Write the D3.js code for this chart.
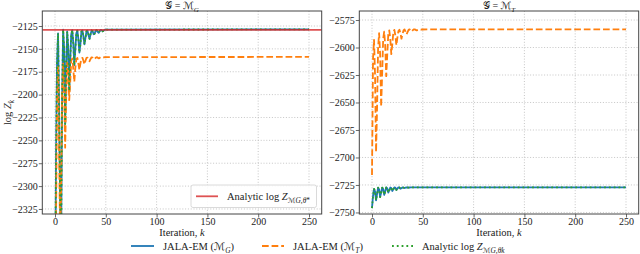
<!DOCTYPE html>
<html><head><meta charset="utf-8">
<script src="https://cdn.jsdelivr.net/npm/d3@7"></script>
<style>
body{margin:0;background:#fff;}
svg text{font-family:"Liberation Serif","DejaVu Serif",serif;fill:#222;}
</style></head>
<body><svg id="c" width="640" height="254"></svg>
<script>
// ---------------- data ----------------
const iterations = [0,1,2,3,4,5,6,7,8,9,10,11,12,13,14,15,16,17,18,19,20,21,22,23,24,25,26,27,28,29,30,31,32,33,34,35,36,37,38,39,40,41,42,43,44,45,46,47,48,49,250];
// Panel G = M_G
const leftJalaMG = [-2450,-2270,-2165,-2133,-2210,-2310,-2370,-2205,-2129,-2150,-2232,-2172,-2131,-2148,-2196,-2162,-2134,-2129.5,-2144,-2168,-2150,-2133,-2130,-2139,-2154,-2145,-2131,-2129.8,-2137,-2145,-2138,-2130.5,-2130,-2135,-2139,-2134,-2129.8,-2130.5,-2134,-2133.5,-2130,-2129.5,-2131.5,-2132.5,-2130.5,-2129.2,-2129.8,-2130.8,-2130,-2129,-2128.6];
const leftJalaMT = [-2470,-2340,-2205,-2168,-2255,-2355,-2310,-2195,-2166,-2200,-2258,-2203,-2165,-2174,-2206,-2186,-2163,-2160.5,-2172,-2186,-2171,-2161.5,-2160,-2166,-2173,-2166,-2160.5,-2159.8,-2163,-2167,-2163,-2159.8,-2159.5,-2162,-2163.5,-2161,-2159.2,-2159.5,-2161,-2161.2,-2159.8,-2159,-2159.6,-2160.4,-2159.8,-2159,-2159.2,-2159.6,-2159.3,-2159,-2158.8];
const leftAnalyticTheta = leftJalaMG;          // analytic log Z_{M_G,theta_k} coincides with JALA-EM(M_G)
const leftAnalyticStar = -2129.3;              // analytic log Z_{M_G,theta*}
// Panel G = M_T
const rightJalaMT = [-2716,-2610,-2593,-2625,-2695,-2655,-2600,-2587,-2606,-2654,-2624,-2592,-2585.5,-2598,-2626,-2607,-2588,-2584.5,-2592,-2606,-2597,-2586,-2584,-2589,-2598,-2591,-2585,-2583.8,-2587,-2592,-2588,-2584.5,-2583.6,-2585.5,-2588,-2586,-2584,-2583.5,-2584.5,-2585.5,-2584.5,-2583.6,-2583.5,-2584,-2584.5,-2584,-2583.6,-2583.5,-2583.7,-2583.6,-2583.5];
const rightJalaMG = [-2746,-2735,-2728.5,-2731,-2739,-2733,-2727.5,-2729,-2736,-2732,-2727.5,-2728.5,-2734,-2731,-2727.3,-2728,-2732,-2730,-2727.3,-2727.8,-2730.5,-2729,-2727.3,-2727.5,-2729.5,-2728.3,-2727.2,-2727.3,-2728.5,-2728,-2727.2,-2727.4,-2727.8,-2727.5,-2727.2,-2727.3,-2727.5,-2727.3,-2727.2,-2727.2,-2727.2,-2727.2,-2727.2,-2727.2,-2727.2,-2727.2,-2727.2,-2727.2,-2727.2,-2727.2,-2727.2];
const rightAnalyticTheta = rightJalaMG;
const xTicks = [0,50,100,150,200,250];
const leftYTicks = [-2325,-2300,-2275,-2250,-2225,-2200,-2175,-2150,-2125];
const rightYTicks = [-2750,-2725,-2700,-2675,-2650,-2625,-2600,-2575];

const C = {blue:"#1f77b4", orange:"#ff7f0e", green:"#2ca02c", red:"#d62728"};
const LW = 1.8;

const svg = d3.select("#c");
const yTop = 11, yBot = 214;

function richText(g, x, y, parts, size, anchor){
  const t = g.append("text").attr("x", x).attr("y", y).attr("font-size", size).attr("text-anchor", anchor||"start");
  let shift = 0;
  parts.forEach(p=>{
    const ts = t.append("tspan").text(p.t);
    const want = p.sub ? size*0.3 : 0;
    if (want !== shift){ ts.attr("dy", want - shift); shift = want; }
    if (p.sub) ts.attr("font-size", size*0.7);
    if (p.i) ts.attr("font-style","italic");
    if (p.f) ts.style("font-family", p.f);
  });
  return t;
}

function panel(x0, x1, yDomain, yTicks, id){
  const g = svg.append("g");
  const x = d3.scaleLinear().domain([-12.5,262.5]).range([x0,x1]);
  const y = d3.scaleLinear().domain(yDomain).range([yBot, yTop]);
  g.append("clipPath").attr("id","clip"+id).append("rect")
    .attr("x",x0).attr("y",yTop).attr("width",x1-x0).attr("height",yBot-yTop);
  g.selectAll(".gx").data(xTicks).enter().append("line")
    .attr("x1",d=>x(d)).attr("x2",d=>x(d)).attr("y1",yTop).attr("y2",yBot)
    .attr("stroke","#b8b8b8").attr("stroke-width",0.8).attr("stroke-dasharray","1,1.8");
  g.selectAll(".gy").data(yTicks).enter().append("line")
    .attr("y1",d=>y(d)).attr("y2",d=>y(d)).attr("x1",x0).attr("x2",x1)
    .attr("stroke","#b8b8b8").attr("stroke-width",0.8).attr("stroke-dasharray","1,1.8");
  const ax = g.append("g").attr("transform",`translate(0,${yBot})`)
    .call(d3.axisBottom(x).tickValues(xTicks).tickSize(3.5).tickPadding(0).tickFormat(d3.format("d")));
  const ay = g.append("g").attr("transform",`translate(${x0},0)`)
    .call(d3.axisLeft(y).tickValues(yTicks).tickSize(3.5).tickPadding(1).tickFormat(d=>"\u2212"+Math.abs(d)));
  [ax,ay].forEach(a=>{
    a.select(".domain").remove();
    a.selectAll("line").attr("stroke","#444").attr("stroke-width",0.8);
    a.selectAll("text").attr("font-size",10).style("font-family","Liberation Serif").attr("fill","#222");
  });
  const plot = g.append("g").attr("clip-path",`url(#clip${id})`);
  return {g, x, y, plot};
}

function drawLine(P, ys, color, dash){
  const line = d3.line().x((d,i)=>P.x(iterations[i])).y(d=>P.y(d));
  const p = P.plot.append("path").datum(ys).attr("d",line).attr("fill","none")
    .attr("stroke",color).attr("stroke-width",LW).attr("stroke-linejoin","round");
  if (dash) p.attr("stroke-dasharray",dash);
  return p;
}

function frame(P, x0, x1){
  P.g.append("rect").attr("x",x0).attr("y",yTop).attr("width",x1-x0).attr("height",yBot-yTop)
    .attr("fill","none").attr("stroke","#444").attr("stroke-width",1);
}

// Left panel
const L = panel(42.3, 321.7, [-2330.5,-2108.6], leftYTicks, "L");
drawLine(L, leftJalaMG, C.blue);
drawLine(L, leftJalaMT, C.orange, "6.7,2.9");
drawLine(L, leftAnalyticTheta, C.green, "1.8,3");
L.plot.append("line").attr("x1",42.3).attr("x2",321.7)
  .attr("y1",L.y(leftAnalyticStar)).attr("y2",L.y(leftAnalyticStar))
  .attr("stroke",C.red).attr("stroke-opacity",0.8).attr("stroke-width",LW);
frame(L, 42.3, 321.7);

// Right panel
const R = panel(359.3, 638.7, [-2751.4,-2566.8], rightYTicks, "R");
drawLine(R, rightJalaMG, C.blue);
drawLine(R, rightJalaMT, C.orange, "6.7,2.9");
drawLine(R, rightAnalyticTheta, C.green, "1.8,3");
frame(R, 359.3, 638.7);

const scriptFont = "'DejaVu Serif','DejaVu Sans','Noto Sans',serif";
richText(svg, 182, 9, [{t:"\uD835\uDCA2",f:scriptFont},{t:" = "},{t:"\u2133",f:scriptFont},{t:"G",i:1,sub:1}], 10, "middle");
richText(svg, 499, 9, [{t:"\uD835\uDCA2",f:scriptFont},{t:" = "},{t:"\u2133",f:scriptFont},{t:"T",i:1,sub:1}], 10, "middle");

richText(svg, 182, 235.5, [{t:"Iteration, "},{t:"k",i:1}], 10.5, "middle");
richText(svg, 499, 235.5, [{t:"Iteration, "},{t:"k",i:1}], 10.5, "middle");

const yl = svg.append("g").attr("transform","translate(10.5,112.5) rotate(-90)");
richText(yl, 0, 0, [{t:"log "},{t:"Z",i:1},{t:"k",i:1,sub:1}], 10.5, "middle");

svg.append("rect").attr("x",191).attr("y",185).attr("width",125.5).attr("height",22.5).attr("rx",2)
  .attr("fill","#fff").attr("fill-opacity",0.85).attr("stroke","#d0d0d0").attr("stroke-width",0.8);
svg.append("line").attr("x1",196).attr("x2",218).attr("y1",196.3).attr("y2",196.3)
  .attr("stroke",C.red).attr("stroke-opacity",0.8).attr("stroke-width",LW);
richText(svg, 227, 200, [{t:"Analytic log "},{t:"Z",i:1},{t:"\u2133",sub:1,f:scriptFont},{t:"G",i:1,sub:1},{t:",θ",i:1,sub:1},{t:"*",sub:1}], 10.5, "start");

const ly = 246;
svg.append("line").attr("x1",131).attr("x2",154).attr("y1",ly).attr("y2",ly).attr("stroke",C.blue).attr("stroke-width",LW);
richText(svg, 163, 250, [{t:"JALA-EM ("},{t:"\u2133",f:scriptFont},{t:"G",i:1,sub:1},{t:")"}], 10.5, "start");
svg.append("line").attr("x1",262).attr("x2",284).attr("y1",ly).attr("y2",ly).attr("stroke",C.orange).attr("stroke-width",LW).attr("stroke-dasharray","6.7,2.9");
richText(svg, 293, 250, [{t:"JALA-EM ("},{t:"\u2133",f:scriptFont},{t:"T",i:1,sub:1},{t:")"}], 10.5, "start");
svg.append("line").attr("x1",392).attr("x2",415).attr("y1",ly).attr("y2",ly).attr("stroke",C.green).attr("stroke-width",LW).attr("stroke-dasharray","1.8,3");
richText(svg, 422, 250, [{t:"Analytic log "},{t:"Z",i:1},{t:"\u2133",sub:1,f:scriptFont},{t:"G",i:1,sub:1},{t:",θ",i:1,sub:1},{t:"k",i:1,sub:1}], 10.5, "start");
</script></body></html>
